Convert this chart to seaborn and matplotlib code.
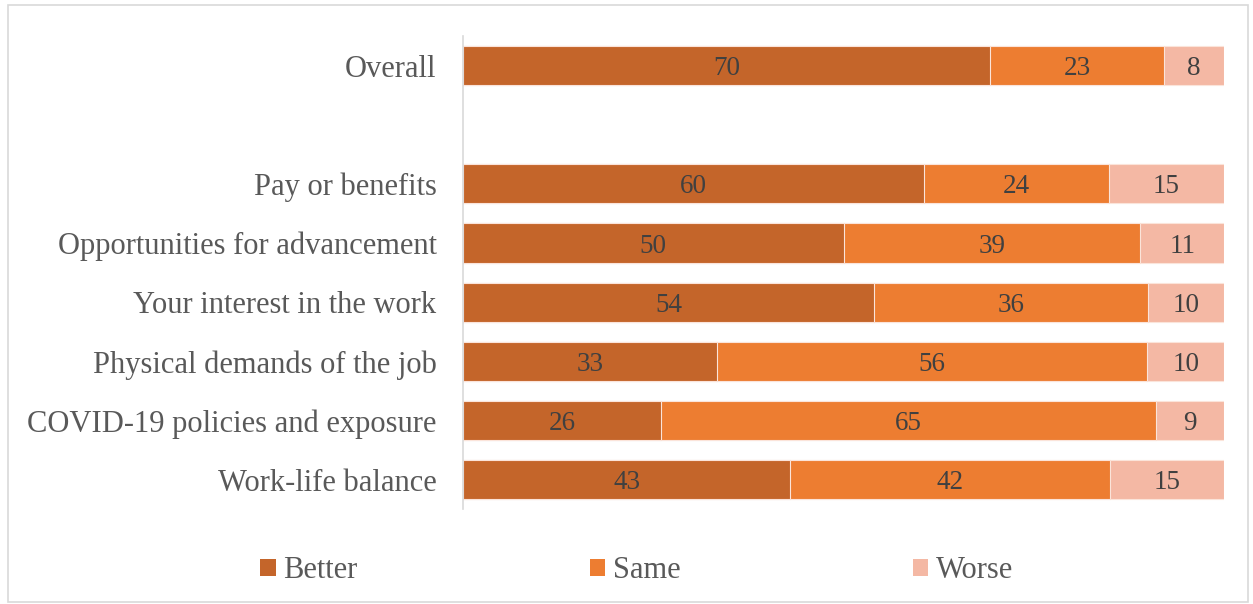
import matplotlib
matplotlib.use("Agg")
import matplotlib.pyplot as plt
import seaborn as sns
import pandas as pd
import numpy as np
from matplotlib.patches import Rectangle

categories = ["Overall", "Pay or benefits", "Opportunities for advancement",
              "Your interest in the work", "Physical demands of the job",
              "COVID-19 policies and exposure", "Work-life balance"]
better = [70, 60, 50, 54, 33, 26, 43]
same = [23, 24, 39, 36, 56, 65, 42]
worse = [8, 15, 11, 10, 10, 9, 15]
series_names = ["Better", "Same", "Worse"]
colors = ["#C4652A", "#ED7D31", "#F4B8A4"]

order = [categories[0], " "] + categories[1:]

sns.set_theme(style="white")
plt.rcParams["font.family"] = ["Liberation Serif", "DejaVu Serif"]

df = pd.DataFrame({"cat": categories, "Better": better, "Same": same, "Worse": worse})
tot = df[["Better", "Same", "Worse"]].sum(axis=1)
df["pB"] = df["Better"] / tot * 100
df["pS"] = df["Same"] / tot * 100
df["pW"] = df["Worse"] / tot * 100
df["c1"] = df["pB"]
df["c2"] = df["pB"] + df["pS"]
df["c3"] = df["c2"] + df["pW"]

fig = plt.figure(figsize=(12.53, 6.04), dpi=100)
ax = fig.add_axes([0.3695, 0.157, 0.9769 - 0.3695, 0.9404 - 0.157])

for col, c in zip(["c3", "c2", "c1"], colors[::-1]):
    sns.barplot(data=df, y="cat", x=col, order=order, color=c, orient="h",
                width=0.66, edgecolor="#FBE4DA", linewidth=0.8, ax=ax, saturation=1)

yidx = {c: order.index(c) for c in categories}
for _, r in df.iterrows():
    y = yidx[r["cat"]]
    starts = [0, r["c1"], r["c2"]]
    widths = [r["pB"], r["pS"], r["pW"]]
    vals = [r["Better"], r["Same"], r["Worse"]]
    for s, w, v in zip(starts, widths, vals):
        ax.text(s + w / 2, y, f"{v}", ha="center", va="center_baseline",
                fontsize=19.5, color="#404040")

ax.set_xlim(0, 100)
ax.set_ylim(len(order) - 0.5, -0.5)
ax.set_xlabel("")
ax.set_ylabel("")
ax.set_xticks([])
ax.tick_params(axis="y", length=0, pad=19, labelsize=22, labelcolor="#595959")
for s in ["top", "right", "bottom"]:
    ax.spines[s].set_visible(False)
ax.spines["left"].set_color("#D9D9D9")
ax.spines["left"].set_linewidth(1.2)

handles = [Rectangle((0, 0), 1, 1, facecolor=c, edgecolor="none") for c in colors]
fig.legend(handles, series_names, loc="center", bbox_to_anchor=(0.508, 0.055), ncol=3,
           frameon=False, fontsize=22, labelcolor="#595959", handlelength=0.5,
           handleheight=0.5, handletextpad=0.25, columnspacing=7.6)

fig.add_artist(Rectangle((0.006, 0.004), 0.99, 0.988, transform=fig.transFigure,
                         fill=False, edgecolor="#D9D9D9", linewidth=1.2))

fig.savefig("out.png", dpi=100)
